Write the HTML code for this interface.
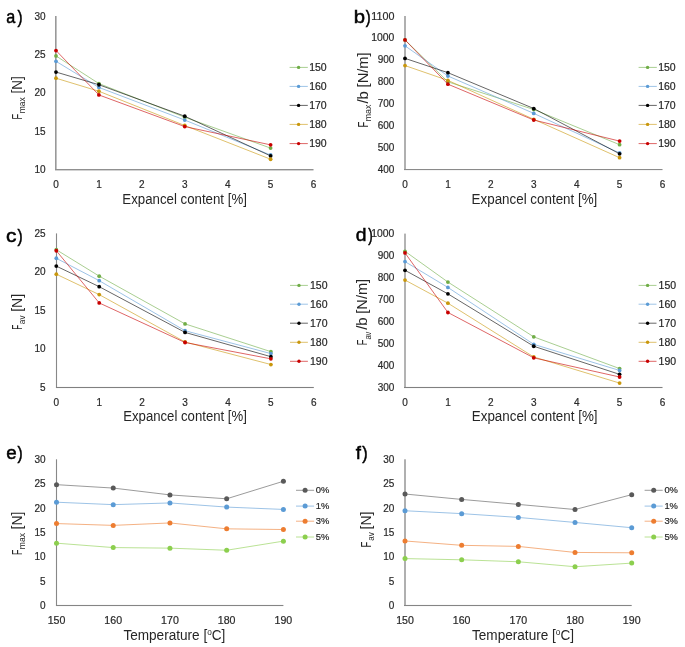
<!DOCTYPE html>
<html><head><meta charset="utf-8"><style>
html,body{margin:0;padding:0;background:#fff;}
body{width:685px;height:647px;overflow:hidden;font-family:"Liberation Sans", sans-serif;}
svg{display:block;will-change:transform;}
</style></head><body>
<svg width="685" height="647" viewBox="0 0 685 647" font-family='"Liberation Sans", sans-serif'>
<rect width="685" height="647" fill="#fff"/>
<rect x="55.00" y="16.00" width="1.60" height="153.70" fill="#999999"/>
<rect x="55.00" y="169.00" width="258.52" height="1.40" fill="#909090"/>
<text x="45.60" y="173.15" text-anchor="end" font-size="10" fill="#2a2a2a" stroke="#2a2a2a" stroke-width="0.2">10</text>
<text x="45.60" y="134.75" text-anchor="end" font-size="10" fill="#2a2a2a" stroke="#2a2a2a" stroke-width="0.2">15</text>
<text x="45.60" y="96.35" text-anchor="end" font-size="10" fill="#2a2a2a" stroke="#2a2a2a" stroke-width="0.2">20</text>
<text x="45.60" y="57.95" text-anchor="end" font-size="10" fill="#2a2a2a" stroke="#2a2a2a" stroke-width="0.2">25</text>
<text x="45.60" y="19.55" text-anchor="end" font-size="10" fill="#2a2a2a" stroke="#2a2a2a" stroke-width="0.2">30</text>
<text x="56.00" y="187.70" text-anchor="middle" font-size="10" fill="#2a2a2a" stroke="#2a2a2a" stroke-width="0.2">0</text>
<text x="98.92" y="187.70" text-anchor="middle" font-size="10" fill="#2a2a2a" stroke="#2a2a2a" stroke-width="0.2">1</text>
<text x="141.84" y="187.70" text-anchor="middle" font-size="10" fill="#2a2a2a" stroke="#2a2a2a" stroke-width="0.2">2</text>
<text x="184.76" y="187.70" text-anchor="middle" font-size="10" fill="#2a2a2a" stroke="#2a2a2a" stroke-width="0.2">3</text>
<text x="227.68" y="187.70" text-anchor="middle" font-size="10" fill="#2a2a2a" stroke="#2a2a2a" stroke-width="0.2">4</text>
<text x="270.60" y="187.70" text-anchor="middle" font-size="10" fill="#2a2a2a" stroke="#2a2a2a" stroke-width="0.2">5</text>
<text x="313.52" y="187.70" text-anchor="middle" font-size="10" fill="#2a2a2a" stroke="#2a2a2a" stroke-width="0.2">6</text>
<polyline points="56.00,55.94 98.92,83.58 184.76,117.22 270.60,148.10" fill="none" stroke="#70ad47" stroke-width="1" stroke-opacity="0.6" stroke-linejoin="round"/>
<circle cx="56.00" cy="55.94" r="1.9" fill="#70ad47"/>
<circle cx="98.92" cy="83.58" r="1.9" fill="#70ad47"/>
<circle cx="184.76" cy="117.22" r="1.9" fill="#70ad47"/>
<circle cx="270.60" cy="148.10" r="1.9" fill="#70ad47"/>
<polyline points="56.00,61.31 98.92,87.42 184.76,120.06 270.60,155.01" fill="none" stroke="#5b9bd5" stroke-width="1" stroke-opacity="0.6" stroke-linejoin="round"/>
<circle cx="56.00" cy="61.31" r="1.9" fill="#5b9bd5"/>
<circle cx="98.92" cy="87.42" r="1.9" fill="#5b9bd5"/>
<circle cx="184.76" cy="120.06" r="1.9" fill="#5b9bd5"/>
<circle cx="270.60" cy="155.01" r="1.9" fill="#5b9bd5"/>
<polyline points="56.00,72.06 98.92,84.74 184.76,116.22 270.60,155.93" fill="none" stroke="#000000" stroke-width="1" stroke-opacity="0.6" stroke-linejoin="round"/>
<circle cx="56.00" cy="72.06" r="1.9" fill="#000000"/>
<circle cx="98.92" cy="84.74" r="1.9" fill="#000000"/>
<circle cx="184.76" cy="116.22" r="1.9" fill="#000000"/>
<circle cx="270.60" cy="155.93" r="1.9" fill="#000000"/>
<polyline points="56.00,78.21 98.92,91.26 184.76,125.52 270.60,159.23" fill="none" stroke="#c9970c" stroke-width="1" stroke-opacity="0.6" stroke-linejoin="round"/>
<circle cx="56.00" cy="78.21" r="1.9" fill="#c9970c"/>
<circle cx="98.92" cy="91.26" r="1.9" fill="#c9970c"/>
<circle cx="184.76" cy="125.52" r="1.9" fill="#c9970c"/>
<circle cx="270.60" cy="159.23" r="1.9" fill="#c9970c"/>
<polyline points="56.00,50.56 98.92,94.95 184.76,126.59 270.60,144.87" fill="none" stroke="#c80000" stroke-width="1" stroke-opacity="0.6" stroke-linejoin="round"/>
<circle cx="56.00" cy="50.56" r="1.9" fill="#c80000"/>
<circle cx="98.92" cy="94.95" r="1.9" fill="#c80000"/>
<circle cx="184.76" cy="126.59" r="1.9" fill="#c80000"/>
<circle cx="270.60" cy="144.87" r="1.9" fill="#c80000"/>
<rect x="404.00" y="16.00" width="2.00" height="153.55" fill="#b0b0b0"/>
<rect x="404.00" y="169.00" width="258.52" height="1.10" fill="#8a8a8a"/>
<text x="394.40" y="173.15" text-anchor="end" font-size="10" fill="#2a2a2a" stroke="#2a2a2a" stroke-width="0.2">400</text>
<text x="394.40" y="151.21" text-anchor="end" font-size="10" fill="#2a2a2a" stroke="#2a2a2a" stroke-width="0.2">500</text>
<text x="394.40" y="129.26" text-anchor="end" font-size="10" fill="#2a2a2a" stroke="#2a2a2a" stroke-width="0.2">600</text>
<text x="394.40" y="107.32" text-anchor="end" font-size="10" fill="#2a2a2a" stroke="#2a2a2a" stroke-width="0.2">700</text>
<text x="394.40" y="85.38" text-anchor="end" font-size="10" fill="#2a2a2a" stroke="#2a2a2a" stroke-width="0.2">800</text>
<text x="394.40" y="63.44" text-anchor="end" font-size="10" fill="#2a2a2a" stroke="#2a2a2a" stroke-width="0.2">900</text>
<text x="394.40" y="41.49" text-anchor="end" font-size="10" fill="#2a2a2a" stroke="#2a2a2a" stroke-width="0.2" textLength="23.13" lengthAdjust="spacingAndGlyphs">1000</text>
<text x="394.40" y="19.55" text-anchor="end" font-size="10" fill="#2a2a2a" stroke="#2a2a2a" stroke-width="0.2" textLength="23.13" lengthAdjust="spacingAndGlyphs">1100</text>
<text x="405.00" y="187.70" text-anchor="middle" font-size="10" fill="#2a2a2a" stroke="#2a2a2a" stroke-width="0.2">0</text>
<text x="447.92" y="187.70" text-anchor="middle" font-size="10" fill="#2a2a2a" stroke="#2a2a2a" stroke-width="0.2">1</text>
<text x="490.84" y="187.70" text-anchor="middle" font-size="10" fill="#2a2a2a" stroke="#2a2a2a" stroke-width="0.2">2</text>
<text x="533.76" y="187.70" text-anchor="middle" font-size="10" fill="#2a2a2a" stroke="#2a2a2a" stroke-width="0.2">3</text>
<text x="576.68" y="187.70" text-anchor="middle" font-size="10" fill="#2a2a2a" stroke="#2a2a2a" stroke-width="0.2">4</text>
<text x="619.60" y="187.70" text-anchor="middle" font-size="10" fill="#2a2a2a" stroke="#2a2a2a" stroke-width="0.2">5</text>
<text x="662.52" y="187.70" text-anchor="middle" font-size="10" fill="#2a2a2a" stroke="#2a2a2a" stroke-width="0.2">6</text>
<polyline points="405.00,39.92 447.92,81.83 533.76,109.48 619.60,144.69" fill="none" stroke="#70ad47" stroke-width="1" stroke-opacity="0.6" stroke-linejoin="round"/>
<circle cx="405.00" cy="39.92" r="1.9" fill="#70ad47"/>
<circle cx="447.92" cy="81.83" r="1.9" fill="#70ad47"/>
<circle cx="533.76" cy="109.48" r="1.9" fill="#70ad47"/>
<circle cx="619.60" cy="144.69" r="1.9" fill="#70ad47"/>
<polyline points="405.00,45.84 447.92,75.99 533.76,113.38 619.60,152.99" fill="none" stroke="#5b9bd5" stroke-width="1" stroke-opacity="0.6" stroke-linejoin="round"/>
<circle cx="405.00" cy="45.84" r="1.9" fill="#5b9bd5"/>
<circle cx="447.92" cy="75.99" r="1.9" fill="#5b9bd5"/>
<circle cx="533.76" cy="113.38" r="1.9" fill="#5b9bd5"/>
<circle cx="619.60" cy="152.99" r="1.9" fill="#5b9bd5"/>
<polyline points="405.00,58.39 447.92,72.68 533.76,108.53 619.60,153.80" fill="none" stroke="#000000" stroke-width="1" stroke-opacity="0.6" stroke-linejoin="round"/>
<circle cx="405.00" cy="58.39" r="1.9" fill="#000000"/>
<circle cx="447.92" cy="72.68" r="1.9" fill="#000000"/>
<circle cx="533.76" cy="108.53" r="1.9" fill="#000000"/>
<circle cx="619.60" cy="153.80" r="1.9" fill="#000000"/>
<polyline points="405.00,65.59 447.92,80.38 533.76,119.29 619.60,157.71" fill="none" stroke="#c9970c" stroke-width="1" stroke-opacity="0.6" stroke-linejoin="round"/>
<circle cx="405.00" cy="65.59" r="1.9" fill="#c9970c"/>
<circle cx="447.92" cy="80.38" r="1.9" fill="#c9970c"/>
<circle cx="533.76" cy="119.29" r="1.9" fill="#c9970c"/>
<circle cx="619.60" cy="157.71" r="1.9" fill="#c9970c"/>
<polyline points="405.00,39.92 447.92,84.20 533.76,120.01 619.60,141.10" fill="none" stroke="#c80000" stroke-width="1" stroke-opacity="0.6" stroke-linejoin="round"/>
<circle cx="405.00" cy="39.92" r="1.9" fill="#c80000"/>
<circle cx="447.92" cy="84.20" r="1.9" fill="#c80000"/>
<circle cx="533.76" cy="120.01" r="1.9" fill="#c80000"/>
<circle cx="619.60" cy="141.10" r="1.9" fill="#c80000"/>
<rect x="55.95" y="233.40" width="1.10" height="154.10" fill="#888888"/>
<rect x="55.95" y="386.95" width="257.87" height="1.10" fill="#808080"/>
<text x="45.60" y="390.95" text-anchor="end" font-size="10" fill="#2a2a2a" stroke="#2a2a2a" stroke-width="0.2">5</text>
<text x="45.60" y="352.45" text-anchor="end" font-size="10" fill="#2a2a2a" stroke="#2a2a2a" stroke-width="0.2">10</text>
<text x="45.60" y="313.95" text-anchor="end" font-size="10" fill="#2a2a2a" stroke="#2a2a2a" stroke-width="0.2">15</text>
<text x="45.60" y="275.45" text-anchor="end" font-size="10" fill="#2a2a2a" stroke="#2a2a2a" stroke-width="0.2">20</text>
<text x="45.60" y="236.95" text-anchor="end" font-size="10" fill="#2a2a2a" stroke="#2a2a2a" stroke-width="0.2">25</text>
<text x="56.30" y="405.50" text-anchor="middle" font-size="10" fill="#2a2a2a" stroke="#2a2a2a" stroke-width="0.2">0</text>
<text x="99.22" y="405.50" text-anchor="middle" font-size="10" fill="#2a2a2a" stroke="#2a2a2a" stroke-width="0.2">1</text>
<text x="142.14" y="405.50" text-anchor="middle" font-size="10" fill="#2a2a2a" stroke="#2a2a2a" stroke-width="0.2">2</text>
<text x="185.06" y="405.50" text-anchor="middle" font-size="10" fill="#2a2a2a" stroke="#2a2a2a" stroke-width="0.2">3</text>
<text x="227.98" y="405.50" text-anchor="middle" font-size="10" fill="#2a2a2a" stroke="#2a2a2a" stroke-width="0.2">4</text>
<text x="270.90" y="405.50" text-anchor="middle" font-size="10" fill="#2a2a2a" stroke="#2a2a2a" stroke-width="0.2">5</text>
<text x="313.82" y="405.50" text-anchor="middle" font-size="10" fill="#2a2a2a" stroke="#2a2a2a" stroke-width="0.2">6</text>
<polyline points="56.30,249.72 99.22,276.13 185.06,323.88 270.90,351.67" fill="none" stroke="#70ad47" stroke-width="1" stroke-opacity="0.6" stroke-linejoin="round"/>
<circle cx="56.30" cy="249.72" r="1.9" fill="#70ad47"/>
<circle cx="99.22" cy="276.13" r="1.9" fill="#70ad47"/>
<circle cx="185.06" cy="323.88" r="1.9" fill="#70ad47"/>
<circle cx="270.90" cy="351.67" r="1.9" fill="#70ad47"/>
<polyline points="56.30,258.27 99.22,280.68 185.06,330.73 270.90,353.60" fill="none" stroke="#5b9bd5" stroke-width="1" stroke-opacity="0.6" stroke-linejoin="round"/>
<circle cx="56.30" cy="258.27" r="1.9" fill="#5b9bd5"/>
<circle cx="99.22" cy="280.68" r="1.9" fill="#5b9bd5"/>
<circle cx="185.06" cy="330.73" r="1.9" fill="#5b9bd5"/>
<circle cx="270.90" cy="353.60" r="1.9" fill="#5b9bd5"/>
<polyline points="56.30,266.12 99.22,286.68 185.06,332.42 270.90,356.68" fill="none" stroke="#000000" stroke-width="1" stroke-opacity="0.6" stroke-linejoin="round"/>
<circle cx="56.30" cy="266.12" r="1.9" fill="#000000"/>
<circle cx="99.22" cy="286.68" r="1.9" fill="#000000"/>
<circle cx="185.06" cy="332.42" r="1.9" fill="#000000"/>
<circle cx="270.90" cy="356.68" r="1.9" fill="#000000"/>
<polyline points="56.30,274.21 99.22,294.62 185.06,341.97 270.90,364.53" fill="none" stroke="#c9970c" stroke-width="1" stroke-opacity="0.6" stroke-linejoin="round"/>
<circle cx="56.30" cy="274.21" r="1.9" fill="#c9970c"/>
<circle cx="99.22" cy="294.62" r="1.9" fill="#c9970c"/>
<circle cx="185.06" cy="341.97" r="1.9" fill="#c9970c"/>
<circle cx="270.90" cy="364.53" r="1.9" fill="#c9970c"/>
<polyline points="56.30,250.73 99.22,302.93 185.06,342.51 270.90,358.83" fill="none" stroke="#c80000" stroke-width="1" stroke-opacity="0.6" stroke-linejoin="round"/>
<circle cx="56.30" cy="250.73" r="1.9" fill="#c80000"/>
<circle cx="99.22" cy="302.93" r="1.9" fill="#c80000"/>
<circle cx="185.06" cy="342.51" r="1.9" fill="#c80000"/>
<circle cx="270.90" cy="358.83" r="1.9" fill="#c80000"/>
<rect x="404.00" y="233.60" width="2.00" height="153.90" fill="#b3b3b3"/>
<rect x="404.00" y="386.95" width="258.52" height="1.10" fill="#808080"/>
<text x="394.40" y="390.95" text-anchor="end" font-size="10" fill="#2a2a2a" stroke="#2a2a2a" stroke-width="0.2">300</text>
<text x="394.40" y="368.98" text-anchor="end" font-size="10" fill="#2a2a2a" stroke="#2a2a2a" stroke-width="0.2">400</text>
<text x="394.40" y="347.01" text-anchor="end" font-size="10" fill="#2a2a2a" stroke="#2a2a2a" stroke-width="0.2">500</text>
<text x="394.40" y="325.04" text-anchor="end" font-size="10" fill="#2a2a2a" stroke="#2a2a2a" stroke-width="0.2">600</text>
<text x="394.40" y="303.06" text-anchor="end" font-size="10" fill="#2a2a2a" stroke="#2a2a2a" stroke-width="0.2">700</text>
<text x="394.40" y="281.09" text-anchor="end" font-size="10" fill="#2a2a2a" stroke="#2a2a2a" stroke-width="0.2">800</text>
<text x="394.40" y="259.12" text-anchor="end" font-size="10" fill="#2a2a2a" stroke="#2a2a2a" stroke-width="0.2">900</text>
<text x="394.40" y="237.15" text-anchor="end" font-size="10" fill="#2a2a2a" stroke="#2a2a2a" stroke-width="0.2" textLength="23.13" lengthAdjust="spacingAndGlyphs">1000</text>
<text x="405.00" y="405.50" text-anchor="middle" font-size="10" fill="#2a2a2a" stroke="#2a2a2a" stroke-width="0.2">0</text>
<text x="447.92" y="405.50" text-anchor="middle" font-size="10" fill="#2a2a2a" stroke="#2a2a2a" stroke-width="0.2">1</text>
<text x="490.84" y="405.50" text-anchor="middle" font-size="10" fill="#2a2a2a" stroke="#2a2a2a" stroke-width="0.2">2</text>
<text x="533.76" y="405.50" text-anchor="middle" font-size="10" fill="#2a2a2a" stroke="#2a2a2a" stroke-width="0.2">3</text>
<text x="576.68" y="405.50" text-anchor="middle" font-size="10" fill="#2a2a2a" stroke="#2a2a2a" stroke-width="0.2">4</text>
<text x="619.60" y="405.50" text-anchor="middle" font-size="10" fill="#2a2a2a" stroke="#2a2a2a" stroke-width="0.2">5</text>
<text x="662.52" y="405.50" text-anchor="middle" font-size="10" fill="#2a2a2a" stroke="#2a2a2a" stroke-width="0.2">6</text>
<polyline points="405.00,251.29 447.92,282.05 533.76,336.87 619.60,368.57" fill="none" stroke="#70ad47" stroke-width="1" stroke-opacity="0.6" stroke-linejoin="round"/>
<circle cx="405.00" cy="251.29" r="1.9" fill="#70ad47"/>
<circle cx="447.92" cy="282.05" r="1.9" fill="#70ad47"/>
<circle cx="533.76" cy="336.87" r="1.9" fill="#70ad47"/>
<circle cx="619.60" cy="368.57" r="1.9" fill="#70ad47"/>
<polyline points="405.00,261.61 447.92,287.43 533.76,344.34 619.60,370.48" fill="none" stroke="#5b9bd5" stroke-width="1" stroke-opacity="0.6" stroke-linejoin="round"/>
<circle cx="405.00" cy="261.61" r="1.9" fill="#5b9bd5"/>
<circle cx="447.92" cy="287.43" r="1.9" fill="#5b9bd5"/>
<circle cx="533.76" cy="344.34" r="1.9" fill="#5b9bd5"/>
<circle cx="619.60" cy="370.48" r="1.9" fill="#5b9bd5"/>
<polyline points="405.00,270.29 447.92,293.87 533.76,346.25 619.60,374.37" fill="none" stroke="#000000" stroke-width="1" stroke-opacity="0.6" stroke-linejoin="round"/>
<circle cx="405.00" cy="270.29" r="1.9" fill="#000000"/>
<circle cx="447.92" cy="293.87" r="1.9" fill="#000000"/>
<circle cx="533.76" cy="346.25" r="1.9" fill="#000000"/>
<circle cx="619.60" cy="374.37" r="1.9" fill="#000000"/>
<polyline points="405.00,280.05 447.92,303.18 533.76,356.95 619.60,383.09" fill="none" stroke="#c9970c" stroke-width="1" stroke-opacity="0.6" stroke-linejoin="round"/>
<circle cx="405.00" cy="280.05" r="1.9" fill="#c9970c"/>
<circle cx="447.92" cy="303.18" r="1.9" fill="#c9970c"/>
<circle cx="533.76" cy="356.95" r="1.9" fill="#c9970c"/>
<circle cx="619.60" cy="383.09" r="1.9" fill="#c9970c"/>
<polyline points="405.00,252.93 447.92,312.48 533.76,357.85 619.60,376.99" fill="none" stroke="#c80000" stroke-width="1" stroke-opacity="0.6" stroke-linejoin="round"/>
<circle cx="405.00" cy="252.93" r="1.9" fill="#c80000"/>
<circle cx="447.92" cy="312.48" r="1.9" fill="#c80000"/>
<circle cx="533.76" cy="357.85" r="1.9" fill="#c80000"/>
<circle cx="619.60" cy="376.99" r="1.9" fill="#c80000"/>
<line x1="289.6" y1="67.4" x2="307.8" y2="67.4" stroke="#70ad47" stroke-width="1" stroke-opacity="0.6"/>
<circle cx="298.6" cy="67.4" r="1.7" fill="#70ad47"/>
<text x="309.2" y="70.83" font-size="10.5" fill="#262626" stroke="#262626" stroke-width="0.2">150</text>
<line x1="289.6" y1="86.4" x2="307.8" y2="86.4" stroke="#5b9bd5" stroke-width="1" stroke-opacity="0.6"/>
<circle cx="298.6" cy="86.4" r="1.7" fill="#5b9bd5"/>
<text x="309.2" y="89.83" font-size="10.5" fill="#262626" stroke="#262626" stroke-width="0.2">160</text>
<line x1="289.6" y1="105.4" x2="307.8" y2="105.4" stroke="#000000" stroke-width="1" stroke-opacity="0.6"/>
<circle cx="298.6" cy="105.4" r="1.7" fill="#000000"/>
<text x="309.2" y="108.83" font-size="10.5" fill="#262626" stroke="#262626" stroke-width="0.2">170</text>
<line x1="289.6" y1="124.4" x2="307.8" y2="124.4" stroke="#c9970c" stroke-width="1" stroke-opacity="0.6"/>
<circle cx="298.6" cy="124.4" r="1.7" fill="#c9970c"/>
<text x="309.2" y="127.83" font-size="10.5" fill="#262626" stroke="#262626" stroke-width="0.2">180</text>
<line x1="289.6" y1="143.6" x2="307.8" y2="143.6" stroke="#c80000" stroke-width="1" stroke-opacity="0.6"/>
<circle cx="298.6" cy="143.6" r="1.7" fill="#c80000"/>
<text x="309.2" y="147.03" font-size="10.5" fill="#262626" stroke="#262626" stroke-width="0.2">190</text>
<line x1="638.6" y1="67.4" x2="656.8" y2="67.4" stroke="#70ad47" stroke-width="1" stroke-opacity="0.6"/>
<circle cx="647.6" cy="67.4" r="1.7" fill="#70ad47"/>
<text x="658.2" y="70.83" font-size="10.5" fill="#262626" stroke="#262626" stroke-width="0.2">150</text>
<line x1="638.6" y1="86.4" x2="656.8" y2="86.4" stroke="#5b9bd5" stroke-width="1" stroke-opacity="0.6"/>
<circle cx="647.6" cy="86.4" r="1.7" fill="#5b9bd5"/>
<text x="658.2" y="89.83" font-size="10.5" fill="#262626" stroke="#262626" stroke-width="0.2">160</text>
<line x1="638.6" y1="105.4" x2="656.8" y2="105.4" stroke="#000000" stroke-width="1" stroke-opacity="0.6"/>
<circle cx="647.6" cy="105.4" r="1.7" fill="#000000"/>
<text x="658.2" y="108.83" font-size="10.5" fill="#262626" stroke="#262626" stroke-width="0.2">170</text>
<line x1="638.6" y1="124.4" x2="656.8" y2="124.4" stroke="#c9970c" stroke-width="1" stroke-opacity="0.6"/>
<circle cx="647.6" cy="124.4" r="1.7" fill="#c9970c"/>
<text x="658.2" y="127.83" font-size="10.5" fill="#262626" stroke="#262626" stroke-width="0.2">180</text>
<line x1="638.6" y1="143.6" x2="656.8" y2="143.6" stroke="#c80000" stroke-width="1" stroke-opacity="0.6"/>
<circle cx="647.6" cy="143.6" r="1.7" fill="#c80000"/>
<text x="658.2" y="147.03" font-size="10.5" fill="#262626" stroke="#262626" stroke-width="0.2">190</text>
<line x1="290" y1="285.4" x2="307.9" y2="285.4" stroke="#70ad47" stroke-width="1" stroke-opacity="0.6"/>
<circle cx="299" cy="285.4" r="1.7" fill="#70ad47"/>
<text x="310.0" y="288.83" font-size="10.5" fill="#262626" stroke="#262626" stroke-width="0.2">150</text>
<line x1="290" y1="304.2" x2="307.9" y2="304.2" stroke="#5b9bd5" stroke-width="1" stroke-opacity="0.6"/>
<circle cx="299" cy="304.2" r="1.7" fill="#5b9bd5"/>
<text x="310.0" y="307.63" font-size="10.5" fill="#262626" stroke="#262626" stroke-width="0.2">160</text>
<line x1="290" y1="323.2" x2="307.9" y2="323.2" stroke="#000000" stroke-width="1" stroke-opacity="0.6"/>
<circle cx="299" cy="323.2" r="1.7" fill="#000000"/>
<text x="310.0" y="326.63" font-size="10.5" fill="#262626" stroke="#262626" stroke-width="0.2">170</text>
<line x1="290" y1="342.3" x2="307.9" y2="342.3" stroke="#c9970c" stroke-width="1" stroke-opacity="0.6"/>
<circle cx="299" cy="342.3" r="1.7" fill="#c9970c"/>
<text x="310.0" y="345.73" font-size="10.5" fill="#262626" stroke="#262626" stroke-width="0.2">180</text>
<line x1="290" y1="361.3" x2="307.9" y2="361.3" stroke="#c80000" stroke-width="1" stroke-opacity="0.6"/>
<circle cx="299" cy="361.3" r="1.7" fill="#c80000"/>
<text x="310.0" y="364.73" font-size="10.5" fill="#262626" stroke="#262626" stroke-width="0.2">190</text>
<line x1="638.6" y1="285.4" x2="656.5" y2="285.4" stroke="#70ad47" stroke-width="1" stroke-opacity="0.6"/>
<circle cx="647.6" cy="285.4" r="1.7" fill="#70ad47"/>
<text x="658.6" y="288.83" font-size="10.5" fill="#262626" stroke="#262626" stroke-width="0.2">150</text>
<line x1="638.6" y1="304.2" x2="656.5" y2="304.2" stroke="#5b9bd5" stroke-width="1" stroke-opacity="0.6"/>
<circle cx="647.6" cy="304.2" r="1.7" fill="#5b9bd5"/>
<text x="658.6" y="307.63" font-size="10.5" fill="#262626" stroke="#262626" stroke-width="0.2">160</text>
<line x1="638.6" y1="323.2" x2="656.5" y2="323.2" stroke="#000000" stroke-width="1" stroke-opacity="0.6"/>
<circle cx="647.6" cy="323.2" r="1.7" fill="#000000"/>
<text x="658.6" y="326.63" font-size="10.5" fill="#262626" stroke="#262626" stroke-width="0.2">170</text>
<line x1="638.6" y1="342.3" x2="656.5" y2="342.3" stroke="#c9970c" stroke-width="1" stroke-opacity="0.6"/>
<circle cx="647.6" cy="342.3" r="1.7" fill="#c9970c"/>
<text x="658.6" y="345.73" font-size="10.5" fill="#262626" stroke="#262626" stroke-width="0.2">180</text>
<line x1="638.6" y1="361.3" x2="656.5" y2="361.3" stroke="#c80000" stroke-width="1" stroke-opacity="0.6"/>
<circle cx="647.6" cy="361.3" r="1.7" fill="#c80000"/>
<text x="658.6" y="364.73" font-size="10.5" fill="#262626" stroke="#262626" stroke-width="0.2">190</text>
<rect x="55.95" y="459.30" width="1.10" height="146.20" fill="#888888"/>
<rect x="55.95" y="604.95" width="227.45" height="1.10" fill="#858585"/>
<text x="45.60" y="609.15" text-anchor="end" font-size="10" fill="#2a2a2a" stroke="#2a2a2a" stroke-width="0.2">0</text>
<text x="45.60" y="584.77" text-anchor="end" font-size="10" fill="#2a2a2a" stroke="#2a2a2a" stroke-width="0.2">5</text>
<text x="45.60" y="560.38" text-anchor="end" font-size="10" fill="#2a2a2a" stroke="#2a2a2a" stroke-width="0.2">10</text>
<text x="45.60" y="536.00" text-anchor="end" font-size="10" fill="#2a2a2a" stroke="#2a2a2a" stroke-width="0.2">15</text>
<text x="45.60" y="511.62" text-anchor="end" font-size="10" fill="#2a2a2a" stroke="#2a2a2a" stroke-width="0.2">20</text>
<text x="45.60" y="487.23" text-anchor="end" font-size="10" fill="#2a2a2a" stroke="#2a2a2a" stroke-width="0.2">25</text>
<text x="45.60" y="462.85" text-anchor="end" font-size="10" fill="#2a2a2a" stroke="#2a2a2a" stroke-width="0.2">30</text>
<text x="56.50" y="624.10" text-anchor="middle" font-size="10" fill="#2a2a2a" stroke="#2a2a2a" stroke-width="0.2" textLength="17.68" lengthAdjust="spacingAndGlyphs">150</text>
<text x="113.22" y="624.10" text-anchor="middle" font-size="10" fill="#2a2a2a" stroke="#2a2a2a" stroke-width="0.2" textLength="17.68" lengthAdjust="spacingAndGlyphs">160</text>
<text x="169.95" y="624.10" text-anchor="middle" font-size="10" fill="#2a2a2a" stroke="#2a2a2a" stroke-width="0.2" textLength="17.68" lengthAdjust="spacingAndGlyphs">170</text>
<text x="226.67" y="624.10" text-anchor="middle" font-size="10" fill="#2a2a2a" stroke="#2a2a2a" stroke-width="0.2" textLength="17.68" lengthAdjust="spacingAndGlyphs">180</text>
<text x="283.40" y="624.10" text-anchor="middle" font-size="10" fill="#2a2a2a" stroke="#2a2a2a" stroke-width="0.2" textLength="17.68" lengthAdjust="spacingAndGlyphs">190</text>
<polyline points="56.50,484.66 113.22,488.07 169.95,494.90 226.67,498.80 283.40,481.25" fill="none" stroke="#595959" stroke-width="1" stroke-opacity="0.6" stroke-linejoin="round"/>
<circle cx="56.50" cy="484.66" r="2.5" fill="#595959"/>
<circle cx="113.22" cy="488.07" r="2.5" fill="#595959"/>
<circle cx="169.95" cy="494.90" r="2.5" fill="#595959"/>
<circle cx="226.67" cy="498.80" r="2.5" fill="#595959"/>
<circle cx="283.40" cy="481.25" r="2.5" fill="#595959"/>
<polyline points="56.50,502.21 113.22,504.65 169.95,502.95 226.67,507.09 283.40,509.43" fill="none" stroke="#5b9bd5" stroke-width="1" stroke-opacity="0.6" stroke-linejoin="round"/>
<circle cx="56.50" cy="502.21" r="2.5" fill="#5b9bd5"/>
<circle cx="113.22" cy="504.65" r="2.5" fill="#5b9bd5"/>
<circle cx="169.95" cy="502.95" r="2.5" fill="#5b9bd5"/>
<circle cx="226.67" cy="507.09" r="2.5" fill="#5b9bd5"/>
<circle cx="283.40" cy="509.43" r="2.5" fill="#5b9bd5"/>
<polyline points="56.50,523.57 113.22,525.38 169.95,522.94 226.67,528.84 283.40,529.52" fill="none" stroke="#ed7d31" stroke-width="1" stroke-opacity="0.6" stroke-linejoin="round"/>
<circle cx="56.50" cy="523.57" r="2.5" fill="#ed7d31"/>
<circle cx="113.22" cy="525.38" r="2.5" fill="#ed7d31"/>
<circle cx="169.95" cy="522.94" r="2.5" fill="#ed7d31"/>
<circle cx="226.67" cy="528.84" r="2.5" fill="#ed7d31"/>
<circle cx="283.40" cy="529.52" r="2.5" fill="#ed7d31"/>
<polyline points="56.50,543.18 113.22,547.57 169.95,548.15 226.67,550.25 283.40,541.13" fill="none" stroke="#8ccf4e" stroke-width="1" stroke-opacity="0.6" stroke-linejoin="round"/>
<circle cx="56.50" cy="543.18" r="2.5" fill="#8ccf4e"/>
<circle cx="113.22" cy="547.57" r="2.5" fill="#8ccf4e"/>
<circle cx="169.95" cy="548.15" r="2.5" fill="#8ccf4e"/>
<circle cx="226.67" cy="550.25" r="2.5" fill="#8ccf4e"/>
<circle cx="283.40" cy="541.13" r="2.5" fill="#8ccf4e"/>
<rect x="404.00" y="459.30" width="2.00" height="146.20" fill="#b0b0b0"/>
<rect x="404.00" y="604.95" width="227.70" height="1.10" fill="#858585"/>
<text x="394.40" y="609.15" text-anchor="end" font-size="10" fill="#2a2a2a" stroke="#2a2a2a" stroke-width="0.2">0</text>
<text x="394.40" y="584.77" text-anchor="end" font-size="10" fill="#2a2a2a" stroke="#2a2a2a" stroke-width="0.2">5</text>
<text x="394.40" y="560.38" text-anchor="end" font-size="10" fill="#2a2a2a" stroke="#2a2a2a" stroke-width="0.2">10</text>
<text x="394.40" y="536.00" text-anchor="end" font-size="10" fill="#2a2a2a" stroke="#2a2a2a" stroke-width="0.2">15</text>
<text x="394.40" y="511.62" text-anchor="end" font-size="10" fill="#2a2a2a" stroke="#2a2a2a" stroke-width="0.2">20</text>
<text x="394.40" y="487.23" text-anchor="end" font-size="10" fill="#2a2a2a" stroke="#2a2a2a" stroke-width="0.2">25</text>
<text x="394.40" y="462.85" text-anchor="end" font-size="10" fill="#2a2a2a" stroke="#2a2a2a" stroke-width="0.2">30</text>
<text x="405.00" y="624.10" text-anchor="middle" font-size="10" fill="#2a2a2a" stroke="#2a2a2a" stroke-width="0.2" textLength="17.68" lengthAdjust="spacingAndGlyphs">150</text>
<text x="461.68" y="624.10" text-anchor="middle" font-size="10" fill="#2a2a2a" stroke="#2a2a2a" stroke-width="0.2" textLength="17.68" lengthAdjust="spacingAndGlyphs">160</text>
<text x="518.35" y="624.10" text-anchor="middle" font-size="10" fill="#2a2a2a" stroke="#2a2a2a" stroke-width="0.2" textLength="17.68" lengthAdjust="spacingAndGlyphs">170</text>
<text x="575.03" y="624.10" text-anchor="middle" font-size="10" fill="#2a2a2a" stroke="#2a2a2a" stroke-width="0.2" textLength="17.68" lengthAdjust="spacingAndGlyphs">180</text>
<text x="631.70" y="624.10" text-anchor="middle" font-size="10" fill="#2a2a2a" stroke="#2a2a2a" stroke-width="0.2" textLength="17.68" lengthAdjust="spacingAndGlyphs">190</text>
<polyline points="405.00,494.02 461.68,499.43 518.35,504.41 575.03,509.53 631.70,494.66" fill="none" stroke="#595959" stroke-width="1" stroke-opacity="0.6" stroke-linejoin="round"/>
<circle cx="405.00" cy="494.02" r="2.5" fill="#595959"/>
<circle cx="461.68" cy="499.43" r="2.5" fill="#595959"/>
<circle cx="518.35" cy="504.41" r="2.5" fill="#595959"/>
<circle cx="575.03" cy="509.53" r="2.5" fill="#595959"/>
<circle cx="631.70" cy="494.66" r="2.5" fill="#595959"/>
<polyline points="405.00,510.75 461.68,513.63 518.35,517.43 575.03,522.45 631.70,527.72" fill="none" stroke="#5b9bd5" stroke-width="1" stroke-opacity="0.6" stroke-linejoin="round"/>
<circle cx="405.00" cy="510.75" r="2.5" fill="#5b9bd5"/>
<circle cx="461.68" cy="513.63" r="2.5" fill="#5b9bd5"/>
<circle cx="518.35" cy="517.43" r="2.5" fill="#5b9bd5"/>
<circle cx="575.03" cy="522.45" r="2.5" fill="#5b9bd5"/>
<circle cx="631.70" cy="527.72" r="2.5" fill="#5b9bd5"/>
<polyline points="405.00,540.98 461.68,545.32 518.35,546.40 575.03,552.44 631.70,552.79" fill="none" stroke="#ed7d31" stroke-width="1" stroke-opacity="0.6" stroke-linejoin="round"/>
<circle cx="405.00" cy="540.98" r="2.5" fill="#ed7d31"/>
<circle cx="461.68" cy="545.32" r="2.5" fill="#ed7d31"/>
<circle cx="518.35" cy="546.40" r="2.5" fill="#ed7d31"/>
<circle cx="575.03" cy="552.44" r="2.5" fill="#ed7d31"/>
<circle cx="631.70" cy="552.79" r="2.5" fill="#ed7d31"/>
<polyline points="405.00,558.59 461.68,559.81 518.35,561.76 575.03,566.73 631.70,563.12" fill="none" stroke="#8ccf4e" stroke-width="1" stroke-opacity="0.6" stroke-linejoin="round"/>
<circle cx="405.00" cy="558.59" r="2.5" fill="#8ccf4e"/>
<circle cx="461.68" cy="559.81" r="2.5" fill="#8ccf4e"/>
<circle cx="518.35" cy="561.76" r="2.5" fill="#8ccf4e"/>
<circle cx="575.03" cy="566.73" r="2.5" fill="#8ccf4e"/>
<circle cx="631.70" cy="563.12" r="2.5" fill="#8ccf4e"/>
<line x1="296" y1="490.3" x2="314.1" y2="490.3" stroke="#595959" stroke-width="1" stroke-opacity="0.6"/>
<circle cx="305.1" cy="490.3" r="2.5" fill="#595959"/>
<text x="315.8" y="493.34" font-size="9.4" fill="#262626" stroke="#262626" stroke-width="0.2">0%</text>
<line x1="296" y1="506.1" x2="314.1" y2="506.1" stroke="#5b9bd5" stroke-width="1" stroke-opacity="0.6"/>
<circle cx="305.1" cy="506.1" r="2.5" fill="#5b9bd5"/>
<text x="315.8" y="509.14" font-size="9.4" fill="#262626" stroke="#262626" stroke-width="0.2">1%</text>
<line x1="296" y1="521.2" x2="314.1" y2="521.2" stroke="#ed7d31" stroke-width="1" stroke-opacity="0.6"/>
<circle cx="305.1" cy="521.2" r="2.5" fill="#ed7d31"/>
<text x="315.8" y="524.24" font-size="9.4" fill="#262626" stroke="#262626" stroke-width="0.2">3%</text>
<line x1="296" y1="537.0" x2="314.1" y2="537.0" stroke="#8ccf4e" stroke-width="1" stroke-opacity="0.6"/>
<circle cx="305.1" cy="537.0" r="2.5" fill="#8ccf4e"/>
<text x="315.8" y="540.04" font-size="9.4" fill="#262626" stroke="#262626" stroke-width="0.2">5%</text>
<line x1="644.6" y1="490.3" x2="662.7" y2="490.3" stroke="#595959" stroke-width="1" stroke-opacity="0.6"/>
<circle cx="653.7" cy="490.3" r="2.5" fill="#595959"/>
<text x="664.4000000000001" y="493.34" font-size="9.4" fill="#262626" stroke="#262626" stroke-width="0.2">0%</text>
<line x1="644.6" y1="506.1" x2="662.7" y2="506.1" stroke="#5b9bd5" stroke-width="1" stroke-opacity="0.6"/>
<circle cx="653.7" cy="506.1" r="2.5" fill="#5b9bd5"/>
<text x="664.4000000000001" y="509.14" font-size="9.4" fill="#262626" stroke="#262626" stroke-width="0.2">1%</text>
<line x1="644.6" y1="521.2" x2="662.7" y2="521.2" stroke="#ed7d31" stroke-width="1" stroke-opacity="0.6"/>
<circle cx="653.7" cy="521.2" r="2.5" fill="#ed7d31"/>
<text x="664.4000000000001" y="524.24" font-size="9.4" fill="#262626" stroke="#262626" stroke-width="0.2">3%</text>
<line x1="644.6" y1="537.0" x2="662.7" y2="537.0" stroke="#8ccf4e" stroke-width="1" stroke-opacity="0.6"/>
<circle cx="653.7" cy="537.0" r="2.5" fill="#8ccf4e"/>
<text x="664.4000000000001" y="540.04" font-size="9.4" fill="#262626" stroke="#262626" stroke-width="0.2">5%</text>
<text x="122.30" y="203.60" font-size="14.0" fill="#262626" textLength="124.60" lengthAdjust="spacingAndGlyphs">Expancel content [%]</text>
<text x="471.60" y="203.60" font-size="14.0" fill="#262626" textLength="125.70" lengthAdjust="spacingAndGlyphs">Expancel content [%]</text>
<text x="123.20" y="421.40" font-size="14.0" fill="#262626" textLength="123.70" lengthAdjust="spacingAndGlyphs">Expancel content [%]</text>
<text x="471.80" y="421.40" font-size="14.0" fill="#262626" textLength="125.70" lengthAdjust="spacingAndGlyphs">Expancel content [%]</text>
<text x="123.40" y="639.50" font-size="14.0" fill="#262626" textLength="102.00" lengthAdjust="spacingAndGlyphs">Temperature [<tspan font-size="8.5" dy="-4.2">o</tspan><tspan dy="4.2">C]</tspan></text>
<text x="472.00" y="639.50" font-size="14.0" fill="#262626" textLength="102.00" lengthAdjust="spacingAndGlyphs">Temperature [<tspan font-size="8.5" dy="-4.2">o</tspan><tspan dy="4.2">C]</tspan></text>
<text transform="translate(21.60,119.45) rotate(-90) scale(0.667,1)" font-size="13.8" fill="#262626">F</text>
<text transform="translate(25.20,113.16) rotate(-90) scale(0.880,1)" font-size="9.6" fill="#262626">max</text>
<text transform="translate(21.60,93.46) rotate(-90) scale(0.976,1)" font-size="13.8" fill="#262626">[N]</text>
<text transform="translate(367.50,127.49) rotate(-90) scale(0.696,1)" font-size="13.8" fill="#262626">F</text>
<text transform="translate(371.10,121.28) rotate(-90) scale(0.914,1)" font-size="9.6" fill="#262626">max</text>
<text transform="translate(367.50,103.60) rotate(-90) scale(1.080,1)" font-size="13.8" fill="#262626">/b</text>
<text transform="translate(367.50,87.45) rotate(-90) scale(1.067,1)" font-size="13.8" fill="#262626">[N/m]</text>
<text transform="translate(21.60,329.77) rotate(-90) scale(0.593,1)" font-size="13.8" fill="#262626">F</text>
<text transform="translate(25.20,324.15) rotate(-90) scale(0.866,1)" font-size="9.6" fill="#262626">av</text>
<text transform="translate(21.60,311.79) rotate(-90) scale(1.014,1)" font-size="13.8" fill="#262626">[N]</text>
<text transform="translate(367.20,345.35) rotate(-90) scale(0.667,1)" font-size="13.8" fill="#262626">F</text>
<text transform="translate(370.80,339.62) rotate(-90) scale(0.794,1)" font-size="9.6" fill="#262626">av</text>
<text transform="translate(367.20,329.80) rotate(-90) scale(1.089,1)" font-size="13.8" fill="#262626">/b</text>
<text transform="translate(367.20,313.68) rotate(-90) scale(1.056,1)" font-size="13.8" fill="#262626">[N/m]</text>
<text transform="translate(21.60,555.12) rotate(-90) scale(0.637,1)" font-size="13.8" fill="#262626">F</text>
<text transform="translate(25.20,549.17) rotate(-90) scale(0.897,1)" font-size="9.6" fill="#262626">max</text>
<text transform="translate(21.60,529.39) rotate(-90) scale(1.008,1)" font-size="13.8" fill="#262626">[N]</text>
<text transform="translate(370.50,547.49) rotate(-90) scale(0.696,1)" font-size="13.8" fill="#262626">F</text>
<text transform="translate(374.10,540.74) rotate(-90) scale(0.835,1)" font-size="9.6" fill="#262626">av</text>
<text transform="translate(370.50,529.39) rotate(-90) scale(1.014,1)" font-size="13.8" fill="#262626">[N]</text>
<text transform="translate(6.33,22.80) scale(0.901,1)" font-size="18" fill="#000" stroke="#000" stroke-width="0.5">a</text>
<text transform="translate(17.56,22.80) scale(0.839,1)" font-size="18" fill="#000" stroke="#000" stroke-width="0.5">)</text>
<text transform="translate(353.83,22.80) scale(1.126,1)" font-size="18" fill="#000" stroke="#000" stroke-width="0.5">b</text>
<text transform="translate(365.86,22.80) scale(0.818,1)" font-size="18" fill="#000" stroke="#000" stroke-width="0.5">)</text>
<text transform="translate(5.98,241.50) scale(1.157,1)" font-size="18" fill="#000" stroke="#000" stroke-width="0.5">c</text>
<text transform="translate(17.46,241.50) scale(0.860,1)" font-size="18" fill="#000" stroke="#000" stroke-width="0.5">)</text>
<text transform="translate(355.64,241.20) scale(1.074,1)" font-size="18" fill="#000" stroke="#000" stroke-width="0.5">d</text>
<text transform="translate(368.17,241.20) scale(0.755,1)" font-size="18" fill="#000" stroke="#000" stroke-width="0.5">)</text>
<text transform="translate(6.26,459.00) scale(1.040,1)" font-size="18" fill="#000" stroke="#000" stroke-width="0.5">e</text>
<text transform="translate(17.46,459.00) scale(0.860,1)" font-size="18" fill="#000" stroke="#000" stroke-width="0.5">)</text>
<text transform="translate(355.69,459.00) scale(1.048,1)" font-size="18" fill="#000" stroke="#000" stroke-width="0.5">f</text>
<text transform="translate(362.35,459.00) scale(0.901,1)" font-size="18" fill="#000" stroke="#000" stroke-width="0.5">)</text>
</svg>
</body></html>
